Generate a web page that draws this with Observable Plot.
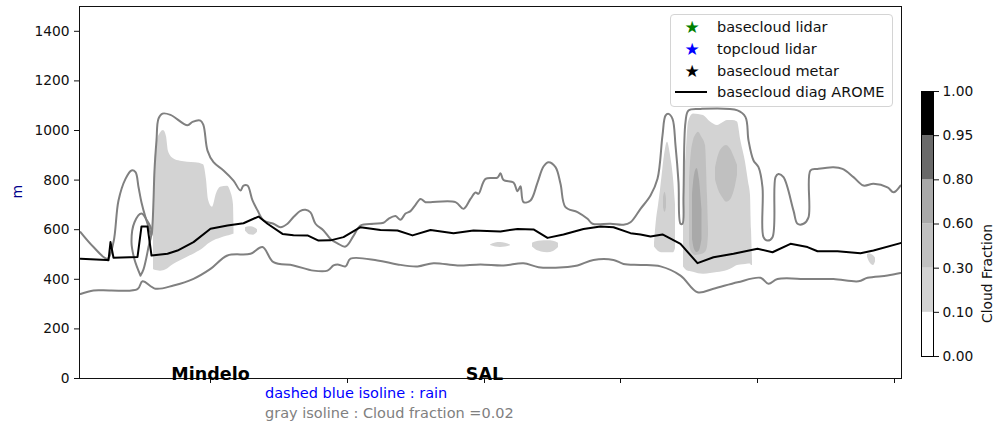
<!DOCTYPE html>
<html><head><meta charset="utf-8">
<script src="https://cdn.jsdelivr.net/npm/d3@7"></script>
<script src="https://cdn.jsdelivr.net/npm/@observablehq/plot@0.6"></script>
<style>
body{margin:0;background:#fff;font-family:"DejaVu Sans",sans-serif;}
#wrap{position:relative;width:994px;height:423px;overflow:hidden;background:#fff;}
#main{position:absolute;left:0;top:0;}
#cbar{position:absolute;left:900px;top:80px;}
.legend{position:absolute;left:670px;top:14px;width:221px;height:91px;border:1px solid #d4d4d4;border-radius:4px;background:rgba(255,255,255,0.85);font-size:14.5px;color:#111;}
.row{position:absolute;left:0;height:20px;line-height:20px;width:221px;}
.row .mk{position:absolute;left:10px;width:22px;text-align:center;font-size:17px;}
.row .ln{position:absolute;left:4px;top:9px;width:32px;height:2px;background:#000;}
.row .tx{position:absolute;left:46px;white-space:nowrap;}
.cap{position:absolute;left:265px;font-size:14.5px;white-space:nowrap;line-height:18px;}
</style>
</head><body>
<div id="wrap">
  <div id="main"></div>
  <div id="cbar"></div>
  <div class="legend" id="legend"></div>
  <div class="cap" style="top:384px;color:#0000ff;">dashed blue isoline : rain</div>
  <div class="cap" style="top:404px;color:#808080;">gray isoline : Cloud fraction =0.02</div>
</div>
<script>
// ---- axes / labels ----
const xTicks = [131, 268, 405, 541, 678, 815];
const yTicks = [0, 200, 400, 600, 800, 1000, 1200, 1400];
const sites = ["Mindelo", "SAL"];
const siteX = [131, 405];

// ---- legend ----
const legendLabels = ["basecloud lidar", "topcloud lidar", "basecloud metar", "basecloud diag AROME"];
const legendColors = ["green", "blue", "black", "black"];

// ---- colorbar ----
const cbLabels = ["0.00", "0.10", "0.30", "0.60", "0.80", "0.95", "1.00"];
const cbColors = ["white", "lightgray", "silver", "darkgray", "dimgray", "black"];

// ---- lines: [distance, height m] ----
const aromeBase = [[1,483],[27,478],[29,477],[31,550],[34,487],[58,490],[62,613],[68,613],[72,496],[88,503],[98,516],[114,550],[131,604],[148,617],[164,626],[179,653],[188,624],[203,583],[214,578],[228,577],[239,556],[251,557],[264,570],[281,610],[301,599],[318,597],[333,577],[351,599],[374,586],[394,597],[421,593],[438,603],[454,601],[468,567],[484,581],[504,603],[521,613],[534,610],[551,586],[561,581],[571,573],[583,581],[601,543],[618,465],[634,489],[654,503],[678,523],[693,509],[711,543],[728,530],[738,513],[758,513],[781,505],[794,516],[821,546]];

const isoUpper = [[1,590],[14,530],[28,483],[34,550],[39,718],[46,805],[52,839],[56,832],[59,772],[62,710],[66,650],[70,600],[72,578],[73,620],[74,718],[75,839],[77,960],[79,1048],[83,1068],[91,1063],[108,1021],[113,1035],[121,1040],[124,1021],[128,919],[134,872],[144,839],[154,798],[161,758],[164,778],[168,778],[173,718],[178,678],[184,638],[194,624],[201,610],[208,624],[214,651],[221,676],[226,680],[231,670],[236,624],[244,597],[251,563],[258,545],[266,532],[274,575],[281,617],[294,624],[304,628],[309,644],[316,655],[321,640],[326,665],[331,675],[336,700],[341,724],[346,711],[351,711],[376,711],[384,684],[391,724],[396,750],[399,745],[406,805],[418,810],[421,828],[424,800],[434,790],[438,755],[441,775],[444,711],[451,718],[458,790],[464,855],[469,872],[476,852],[481,785],[486,691],[498,671],[508,644],[513,624],[531,624],[544,620],[551,630],[561,684],[571,738],[578,805],[583,980],[586,1060],[589,1067],[593,1047],[596,940],[599,792],[601,624],[603,624],[604,738],[606,1034],[609,1081],[621,1087],[658,1081],[666,1054],[669,960],[674,879],[679,852],[683,771],[684,570],[688,556],[693,570],[696,812],[699,825],[704,812],[714,677],[718,624],[724,624],[729,650],[731,839],[738,845],[754,852],[763,845],[774,812],[784,778],[794,785],[808,771],[814,751],[821,778]];

const isoLens = [[61,415],[55,480],[52,549],[55,630],[62,665],[67,640],[72,597],[69,530],[64,440],[61,415]];

const isoLower = [[1,341],[14,355],[31,355],[58,360],[63,392],[76,362],[94,375],[114,402],[131,442],[148,496],[171,503],[183,530],[194,469],[214,456],[234,435],[248,435],[254,456],[258,460],[266,452],[271,483],[298,476],[318,460],[338,452],[354,465],[378,456],[401,460],[424,456],[444,465],[459,449],[484,449],[498,456],[514,478],[534,478],[544,462],[561,458],[581,452],[601,415],[618,348],[634,362],[658,388],[681,406],[689,382],[698,401],[728,401],[754,401],[779,392],[788,406],[808,415],[821,425]];

// ---- filled cloud fraction bands: [distance, bottom m, top m] ----
// level 0.10-0.30
const cfMindelo = [[74,440,760],[75.5,436,880],[78,434,960],[81,432,990],[84,434,1000],[87,440,975],[89,445,915],[94,460,886],[101,475,876],[108,489,872],[116,505,870],[124,525,862],[127,535,800],[129,542,720],[133,552,691],[137,560,745],[141,566,771],[148,575,775],[151,578,755],[154,582,700],[154.5,583,600]];
const cfMindelo2 = [[166,595,608],[170,580,612],[174,578,610],[178,590,600]];
const cfSal1 = [[411,536,538],[416,530,546],[421,528,548],[426,530,545],[431,535,538]];
const cfSal2 = [[453,530,545],[456,520,550],[462,510,554],[468,507,555],[474,512,553],[479,528,545]];
const cfEast1 = [[575,530,545],[577,520,640],[579,512,698],[581,508,760],[583,507,832],[585,507,900],[588,507,953],[591,507,899],[594,507,805],[596,523,700]];
const cfEast2 = [[604,450,820],[606,440,872],[609,432,1034],[614,428,1067],[619,422,1065],[624,420,1060],[631,423,1034],[638,427,1020],[643,430,1030],[648,435,1040],[653,445,1040],[658,456,1034],[661,458,966],[666,460,872],[669,462,792],[671,462,738],[672,456,600],[673,456,470]];
const cfEast3 = [[788,490,500],[790,470,503],[792,460,500],[794,456,495],[796,470,485]];
// level 0.30-0.60
const cfMidA = [[584,690,730],[585.5,670,751],[587,690,725]];
const cfMidB = [[610,540,800],[611,520,872],[614,500,960],[616,496,980],[619,498,993],[622,500,975],[626,509,940],[628,530,738],[629,577,600]];
const cfMidC = [[636,800,850],[639,760,900],[643,730,930],[647,711,940],[651,720,925],[655,760,890],[658,820,860]];
// level 0.60-0.80
const cfDarkA = [[613,560,740],[615,520,820],[617.5,508,847],[620,515,800],[622.5,560,680]];

function bands(list, level) {
  const out = [];
  list.forEach((b, k) => b.forEach(([x, lo, hi]) => out.push({id: level + k, x, lo, hi})));
  return out;
}
const lightBands = bands([cfMindelo, cfMindelo2, cfSal1, cfSal2, cfEast1, cfEast2, cfEast3], "l");
const midBands = bands([cfMidA, cfMidB, cfMidC], "m");
const darkBands = bands([cfDarkA], "d");

const pts = (arr, id) => arr.map(([x, y]) => ({id, x, y}));
const isoLines = [...pts(isoUpper, "u"), ...pts(isoLens, "lens"), ...pts(isoLower, "low")];
const arome = pts(aromeBase, "a");

const main = Plot.plot({
  width: 994, height: 386,
  marginLeft: 79, marginRight: 93, marginTop: 6, marginBottom: 8,
  x: {domain: [0, 822]},
  y: {domain: [0, 1500]},
  style: {fontFamily: "DejaVu Sans", fontSize: "13.8px", color: "#111", background: "white", overflow: "visible"},
  marks: [
    Plot.areaY(lightBands, {x: "x", y1: "lo", y2: "hi", z: "id", fill: cbColors[1], curve: "monotone-x"}),
    Plot.areaY(midBands, {x: "x", y1: "lo", y2: "hi", z: "id", fill: cbColors[2], curve: "monotone-x"}),
    Plot.areaY(darkBands, {x: "x", y1: "lo", y2: "hi", z: "id", fill: cbColors[3], curve: "monotone-x"}),
    Plot.line(isoLines, {x: "x", y: "y", z: "id", stroke: "#808080", strokeWidth: 2, curve: "catmull-rom"}),
    Plot.line(arome, {x: "x", y: "y", stroke: "black", strokeWidth: 2}),
    Plot.frame({stroke: "#111", strokeWidth: 1}),
    Plot.axisY({ticks: yTicks, tickSize: 5, tickPadding: 5, tickFormat: d => String(d), label: null}),
    Plot.axisX({ticks: xTicks, tickSize: 5, tickFormat: () => "", label: null}),
    Plot.text(sites, {x: (d, i) => siteX[i], y: () => 0, text: d => d, fontWeight: "bold", fontSize: 17.5, lineAnchor: "bottom", dy: 1, fill: "black"}),
    Plot.text(["m"], {frameAnchor: "left", dx: -62, dy: 6, rotate: -90, text: d => d, fill: "darkblue", fontSize: 14})
  ]
});
document.getElementById("main").appendChild(main);

const cbData = cbColors.map((c, i) => ({i, c}));
const cb = Plot.plot({
  width: 94, height: 290,
  marginLeft: 21, marginRight: 61, marginTop: 11, marginBottom: 14,
  x: {domain: [0, 1], axis: null},
  y: {domain: [0, 6]},
  color: {type: "identity"},
  style: {fontFamily: "DejaVu Sans", fontSize: "13.8px", color: "#111", background: "transparent", overflow: "visible"},
  marks: [
    Plot.rect(cbData, {x1: 0, x2: 1, y1: "i", y2: d => d.i + 1, fill: "c"}),
    Plot.frame({stroke: "black"}),
    Plot.axisY({anchor: "right", ticks: [0, 1, 2, 3, 4, 5, 6], tickFormat: i => cbLabels[i], tickSize: 5, tickPadding: 4, label: null}),
    Plot.text(["Cloud Fraction"], {frameAnchor: "right", dx: 54, rotate: -90, text: d => d, fontSize: 13.8, fill: "#111"})
  ]
});
document.getElementById("cbar").appendChild(cb);

// legend
const lg = document.getElementById("legend");
const rowCenters = [12, 33.5, 55.5, 77];
legendLabels.forEach((lab, i) => {
  const r = document.createElement("div");
  r.className = "row";
  r.style.top = (rowCenters[i] - 10) + "px";
  if (i < 3) {
    const m = document.createElement("span");
    m.className = "mk"; m.textContent = "\u2605"; m.style.color = legendColors[i];
    r.appendChild(m);
  } else {
    const l = document.createElement("span");
    l.className = "ln"; l.style.background = legendColors[i];
    r.appendChild(l);
  }
  const t = document.createElement("span");
  t.className = "tx"; t.textContent = lab;
  r.appendChild(t);
  lg.appendChild(r);
});
</script>
</body></html>
